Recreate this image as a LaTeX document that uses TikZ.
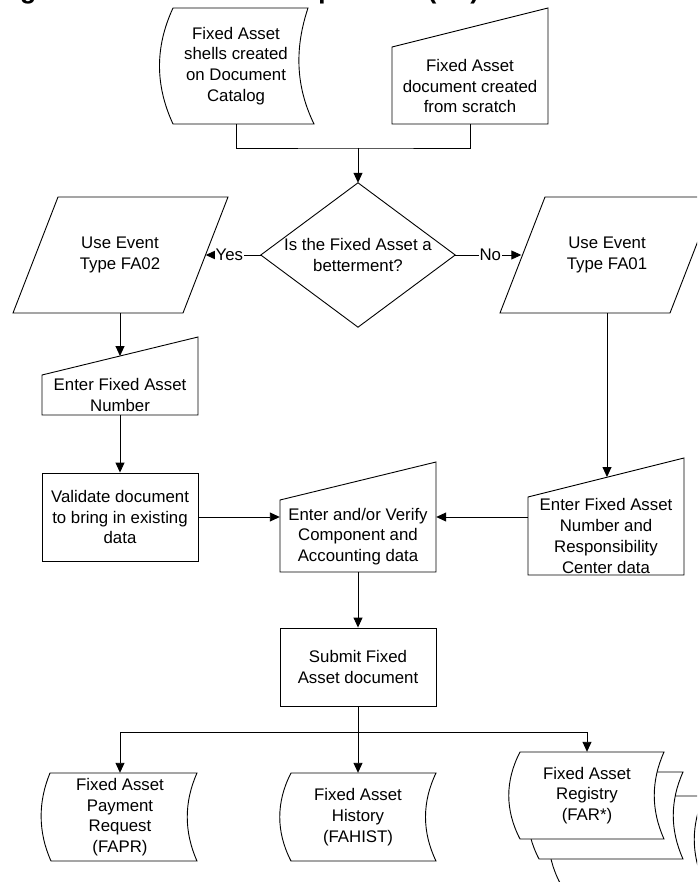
\documentclass[tikz,border=0pt]{standalone}
\usepackage{fontspec}
\setmainfont{Liberation Sans}
\usetikzlibrary{arrows.meta}
\begin{document}
\begin{tikzpicture}[x=1pt,y=-1pt,font=\fontsize{16.8}{20.7}\selectfont,
  shp/.style={draw=black,line width=0.9pt,fill=white},
  txt/.style={align=center,inner sep=0pt,minimum width=156},
  box/.style={txt,draw=black,line width=0.9pt},
  conn/.style={line width=0.9pt},
  arr/.style={conn,-{Triangle[length=10pt,width=9pt]}},
  lab/.style={fill=white,inner sep=1pt}]
\useasboundingbox (0,0) rectangle (697,882);
\clip (0,0) rectangle (697,882);
\node[anchor=base west,inner sep=0pt,font=\bfseries\fontsize{26.6}{30}\selectfont] (title) at (-3.7,-1) {Figure 1: Fixed Asset Acquisition (FA)};
\draw[shp] (173,8) -- (308,8) .. controls (295,47) and (295,85) .. (314,124) -- (173,124) .. controls (155,85) and (155,47) .. (173,8) -- cycle;
\draw[shp] (392,47) -- (548,8) -- (548,124) -- (392,124) -- cycle;
\draw[shp] (58,197) -- (228,197) -- (183,313) -- (13,313) -- cycle;
\draw[shp] (545,197) -- (715,197) -- (670,313) -- (500,313) -- cycle;
\draw[shp] (42,375) -- (198,337) -- (198,415) -- (42,415) -- cycle;
\draw[shp] (280,500) -- (436,462) -- (436,572) -- (280,572) -- cycle;
\draw[shp] (528,497) -- (684,458) -- (684,575) -- (528,575) -- cycle;
\draw[shp] (50,773) -- (197,773) .. controls (184,802) and (184,832) .. (197,861) -- (51,861) .. controls (38,832) and (38,802) .. (50,773) -- cycle;
\draw[shp] (291,773) -- (436,773) .. controls (422,802) and (422,832) .. (436,861) -- (291,861) .. controls (276,832) and (276,802) .. (291,773) -- cycle;
\foreach \dx/\dy in {40/44,19/20,0/0}
  \draw[shp,shift={(\dx,\dy)}] (520,752) -- (664,752) .. controls (651,781) and (651,810) .. (664,839) -- (520,839) .. controls (505,810) and (505,781) .. (520,752) -- cycle;
\node[txt,minimum width=140,minimum height=116] (shell) at (236,66) {Fixed Asset\\shells created\\on Document\\Catalog};
\node[txt,minimum height=76] (docnew) at (470,86) {Fixed Asset\\document created\\from scratch};
\node[txt,minimum width=194,minimum height=144] (dec) at (358,255) {Is the Fixed Asset a\\betterment?};
\draw[conn] (dec.north) -- (dec.east) -- (dec.south) -- (dec.west) -- cycle;
\node[txt,minimum width=171,minimum height=116] (fa02) at (120,255) {Use Event\\Type FA02};
\node[txt,minimum width=171,minimum height=116] (fa01) at (607,255) {Use Event\\Type FA01};
\node[txt,minimum height=40] (efan) at (120,395) {Enter Fixed Asset\\Number};
\node[box,minimum height=88] (valid) at (120,517) {Validate document\\to bring in existing\\data};
\node[txt,minimum height=71] (ev) at (358,536.5) {Enter and/or Verify\\Component and\\Accounting data};
\node[txt,minimum height=78] (erc) at (606,536) {Enter Fixed Asset\\Number and\\Responsibility\\Center data};
\node[box,minimum height=78] (submit) at (358,667) {Submit Fixed\\Asset document};
\node[txt,minimum width=147,minimum height=88] (fapr) at (120,817) {Fixed Asset\\Payment\\Request\\(FAPR)};
\node[txt,minimum width=145,minimum height=88] (fahist) at (358,817) {Fixed Asset\\History\\(FAHIST)};
\node[txt,minimum width=144,minimum height=87] (far) at (587,795.5) {Fixed Asset\\Registry\\(FAR*)};
\coordinate (join) at (358,148);
\coordinate (efanIn) at (120,356);
\coordinate (ercIn) at (607,477);
\coordinate (branch) at (358,732);
\draw[conn] (shell.south) |- (join) -| (docnew.south);
\draw[arr] (join) -- (dec.north);
\draw[arr] (dec.west) -- node[lab,pos=0.57] (yes) {Yes} (fa02.east);
\draw[arr] (dec.east) -- node[lab,pos=0.53] (no) {No} (fa01.west);
\draw[arr] (fa02.south) -- (efanIn);
\draw[arr] (efan.south) -- (valid.north);
\draw[arr] (fa01.south) -- (ercIn);
\draw[arr] (valid.east) -- (valid.east -| ev.west);
\draw[arr] (erc.west |- valid.east) -- (ev.east |- valid.east);
\draw[arr] (ev.south) -- (submit.north);
\draw[arr] (submit.south) -- (fahist.north);
\draw[arr] (branch) -| (fapr.north);
\draw[arr] (branch) -| (far.north);
\end{tikzpicture}
\end{document}
